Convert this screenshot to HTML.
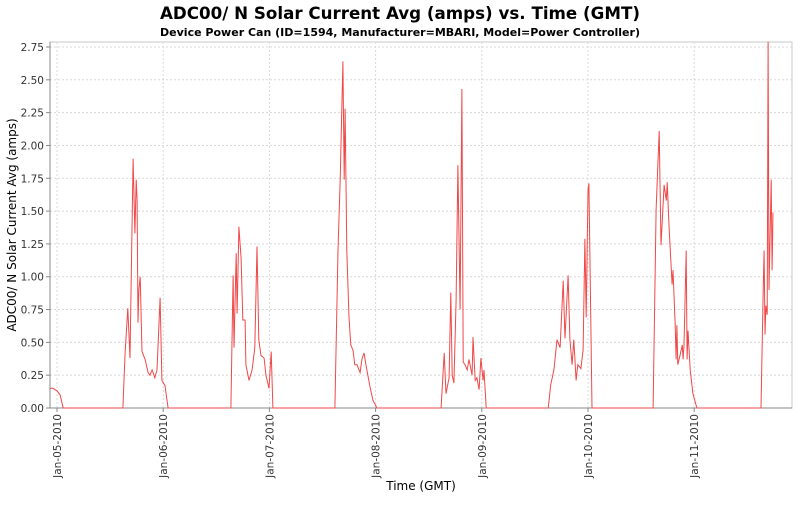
<!DOCTYPE html>
<html><head><meta charset="utf-8"><style>
body{margin:0;background:#fff;}
svg text{font-family:"DejaVu Sans","Liberation Sans",sans-serif;}
</style></head><body>
<svg id="chart" width="800" height="500" xmlns="http://www.w3.org/2000/svg">
<text x="400" y="19" text-anchor="middle" font-size="17" font-weight="bold" fill="#000" textLength="480" lengthAdjust="spacingAndGlyphs">ADC00/ N Solar Current Avg (amps) vs. Time (GMT)</text>
<text x="400" y="36" text-anchor="middle" font-size="11" font-weight="bold" fill="#000" textLength="480" lengthAdjust="spacingAndGlyphs">Device Power Can (ID=1594, Manufacturer=MBARI, Model=Power Controller)</text>
<rect x="50" y="42" width="742" height="366" fill="#fff" stroke="#c8c8c8"/>
<g id="grid"></g>
<g id="axes"></g>
<path id="series" fill="none" stroke="#f04848" stroke-width="1"/>
<text transform="translate(16,225) rotate(-90)" text-anchor="middle" font-size="12" fill="#000">ADC00/ N Solar Current Avg (amps)</text>
<text x="421" y="490" text-anchor="middle" font-size="12" fill="#000">Time (GMT)</text>
</svg>
<script>
const hours=[-1.6,-0.9,0,0.7,1.4,14.9,15.4,16.0,16.5,17.2,17.6,17.9,18.1,18.3,18.5,18.8,19.2,19.9,20.6,21.0,21.5,22.1,22.6,23.3,23.7,24.4,25.1,
39.3,39.8,40.0,40.5,40.7,41.1,41.6,42.0,42.5,42.7,43.4,44.1,44.7,45.2,45.6,46.1,46.8,47.2,47.9,48.4,48.8,
62.8,63.5,64.0,64.6,64.9,65.1,65.5,66.0,66.4,66.9,67.3,67.8,68.5,68.9,69.4,69.8,70.7,71.4,72.3,
86.8,87.5,87.9,88.6,89.0,89.3,89.7,90.2,90.6,91.1,91.5,91.8,92.2,92.7,93.1,93.8,94.0,94.5,94.9,95.4,95.8,96.3,96.5,97.0,
111.0,111.6,112.3,113.0,113.7,114.4,114.8,115.5,115.9,116.4,116.8,117.3,117.7,118.4,118.9,119.3,119.6,120.0,120.2,120.9,
134.7,135.4,136.1,136.5,137.2,137.7,137.9,138.3,139.0,139.2,139.7,139.9,140.1,140.3,140.8,141.3,141.5,141.7,142.2,142.4,142.6,143.1,143.7,144.6,
159.1,159.6,159.8,160.0,160.2,160.5,160.7,160.9,161.4,161.6,161.8];
const amps=[0.15,0.15,0.13,0.10,0,0,0.42,0.76,0.38,1.90,1.33,1.74,1.58,0.65,0.90,1.00,0.43,0.37,0.27,0.25,0.29,0.23,0.29,0.84,0.21,0.17,0,
0,1.01,0.46,1.18,0.72,1.38,1.14,0.67,0.67,0.33,0.21,0.29,0.46,1.23,0.52,0.40,0.38,0.25,0.15,0.43,0,
0,1.20,1.74,2.64,1.74,2.28,1.20,0.69,0.48,0.44,0.33,0.33,0.27,0.37,0.42,0.33,0.17,0.06,0,
0,0.42,0.11,0.23,0.88,0.25,0.19,0.82,1.85,0.75,2.43,0.35,0.33,0.29,0.37,0.25,0.54,0.21,0.23,0.14,0.38,0.21,0.29,0,
0,0.18,0.29,0.52,0.46,0.97,0.53,1.01,0.52,0.33,0.52,0.21,0.33,0.30,0.44,1.29,0.69,1.66,1.71,0,
0,1.51,2.11,1.24,1.70,1.58,1.72,1.39,0.94,1.05,0.63,0.37,0.63,0.33,0.40,0.48,0.37,0.48,1.20,0.37,0.59,0.29,0.11,0,
0,0.90,1.20,0.56,0.78,0.71,2.79,0.90,1.74,1.05,1.49];
const yTicks=[0,0.25,0.5,0.75,1,1.25,1.5,1.75,2,2.25,2.5,2.75];
const yTickLabels=["0.00","0.25","0.50","0.75","1.00","1.25","1.50","1.75","2.00","2.25","2.50","2.75"];
const xTicks=[0,24,48,72,96,120,144];
const xTickLabels=["Jan-05-2010","Jan-06-2010","Jan-07-2010","Jan-08-2010","Jan-09-2010","Jan-10-2010","Jan-11-2010"];

const X0=50,X1=792,Y0=408,Y1=42,XMIN=-1.58,XMAX=166.1,YMIN=0,YMAX=2.788;
const sx=h=>X0+(h-XMIN)/(XMAX-XMIN)*(X1-X0);
const sy=v=>Y0-(v-YMIN)/(YMAX-YMIN)*(Y0-Y1);
const NS="http://www.w3.org/2000/svg";
const grid=document.getElementById('grid'),axes=document.getElementById('axes');
function mk(tag,attrs,parent){const e=document.createElementNS(NS,tag);for(const k in attrs)e.setAttribute(k,attrs[k]);parent.appendChild(e);return e;}
yTicks.forEach((v,i)=>{
  const y=sy(v);
  const g=mk('line',{x1:X0,x2:X1,y1:y,y2:y,stroke:'#d8d8d8','stroke-dasharray':'2,2'},grid);
  
  
  const t=mk('line',{x1:X0-4,x2:X0,y1:y,y2:y,stroke:'#888'},axes);
  
  
  const l=mk('text',{x:X0-6,y:y+4,'text-anchor':'end','font-size':'10.5',fill:'#333'},axes);
  l.textContent=yTickLabels[i];
  
  
});
xTicks.forEach((h,i)=>{
  const x=sx(h);
  const g=mk('line',{x1:x,x2:x,y1:Y1,y2:Y0,stroke:'#d8d8d8','stroke-dasharray':'2,2'},grid);
  
  
  const t=mk('line',{x1:x,x2:x,y1:Y0,y2:Y0+4,stroke:'#888'},axes);
  
  
  const l=mk('text',{transform:`translate(${x+4},${Y0+6}) rotate(-90)`,'text-anchor':'end','font-size':'10.5',fill:'#333'},axes);
  l.textContent=xTickLabels[i];
  
  
});
const ya=mk('line',{x1:X0,x2:X0,y1:Y1,y2:Y0,stroke:'#888'},axes);


const xa=mk('line',{x1:X0,x2:X1,y1:Y0,y2:Y0,stroke:'#888'},axes);


let d='';
hours.forEach((h,i)=>{d+=(i?'L':'M')+sx(h).toFixed(1)+','+sy(amps[i]).toFixed(1);});
document.getElementById('series').setAttribute('d',d);
</script>
</body></html>
